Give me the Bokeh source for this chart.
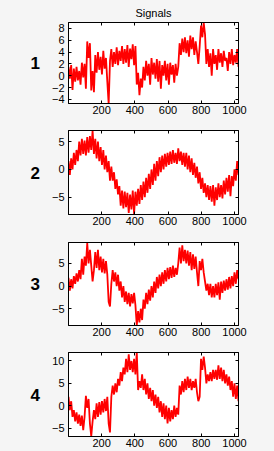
import numpy as np
from bokeh.plotting import figure
from bokeh.layouts import column
from bokeh.models import Range1d, LinearAxis, FixedTicker
from bokeh.embed import file_html
from bokeh.resources import INLINE

# ---- data (one value every ~8 samples) ----
signal_1 = [1.5, -0.5, 1.8, -2.4, 1.2, -1.0, 1.5, -0.8, 0.8, -1.5, 2.2, -0.3, 2.0, -2.2, 5.8, 3.0,
            5.5, -2.5, 0.8, -2.8, 3.5, 0.5, 4.0, 1.0, 3.2, 0.2, 4.2, 1.2, 3.0, -1.0, -4.8, 2.5,
            4.5, 1.5, 4.0, 2.0, 4.8, 1.8, 4.2, 2.5, 5.0, 2.0, 4.5, 2.2, 5.2, 1.5, 4.6, 2.8,
            5.3, 1.8, 5.0, -1.5, 0.5, -3.3, -0.5, -2.0, 1.5, -0.8, 2.5, 0.0, 2.0, -1.5, 3.0, 0.2,
            2.2, -0.5, 2.8, -1.0, 2.5, -2.2, 1.8, 0.0, 2.5, -0.8, 2.0, -1.5, 2.2, 0.2, 1.8, -1.2,
            2.0, 0.0, 1.5, 5.5, 3.5, 6.3, 4.0, 6.5, 3.8, 6.0, 3.2, 6.8, 4.5, 6.5, 3.5, 5.8,
            4.0, 2.0, 5.0, 8.5, 6.5, 9.0, 7.0, 2.0, 4.5, 1.5, 3.8, 0.0, 4.5, 2.0, 3.5, 1.0,
            4.5, 2.2, 3.8, 1.5, 4.2, 2.5, 3.0, 0.8, 4.0, 2.0, 4.5, 1.8, 3.5, 2.2, 4.5, 1.5]
signal_2 = [1.5, -1.0, 2.0, 0.0, 3.0, 0.8, 3.5, 1.5, 5.0, 2.5, 5.5, 2.8, 5.2, 2.5, 5.8, 3.0,
            6.0, 3.5, 7.0, 2.8, 5.5, 2.0, 5.0, 1.5, 4.0, 0.8, 3.5, 0.0, 2.5, -0.5, 1.5, -2.0,
            0.5, -2.0, -0.5, -3.5, -1.8, -4.5, -3.0, -6.5, -3.8, -7.0, -4.0, -6.8, -4.2, -7.8, -4.5, -7.2,
            -3.8, -8.0, -4.0, -6.5, -3.5, -6.2, -2.8, -5.5, -2.2, -5.0, -1.5, -4.2, -0.8, -3.5, 0.0, -2.8,
            1.0, -2.0, 1.5, -1.2, 2.2, -0.5, 2.5, 0.0, 2.8, 0.5, 3.0, 0.8, 3.2, 1.0, 3.5, 1.2,
            3.0, 1.0, 3.8, 1.5, 3.2, 0.8, 3.0, 0.5, 3.0, 0.0, 2.5, -0.5, 2.0, -1.0, 1.2, -1.5,
            0.5, -2.5, -0.5, -3.5, -1.5, -4.2, -2.5, -5.0, -2.8, -5.5, -3.0, -5.8, -2.8, -6.5, -3.2, -5.5,
            -2.5, -5.0, -2.8, -5.2, -2.0, -4.5, -1.5, -4.0, -1.0, -4.8, -1.2, -3.0, 0.0, -2.0, 1.5, -1.0]
signal_3 = [1.8, -1.0, 1.5, -0.5, 2.2, 0.5, 2.8, 1.0, 3.5, 1.5, 6.0, 2.5, 6.5, 4.5, 9.5, 5.0,
            8.0, 4.5, 1.0, 3.5, 7.5, 4.0, 8.0, 3.5, 6.5, 3.0, 6.0, 2.8, 5.5, 2.5, -3.5, -4.5,
            0.5, 3.5, 1.0, 3.0, 0.0, 2.5, -1.0, 1.0, -2.5, 0.0, -3.5, -1.2, -4.0, -1.5, -4.5, -1.8,
            -3.8, -1.5, -4.2, -8.7, -5.5, -8.0, -5.0, -7.5, -3.0, -5.0, -1.5, -4.0, -0.8, -3.2, 0.0, -2.5,
            1.0, -1.5, 2.0, -0.5, 2.5, 0.0, 3.0, 0.5, 3.5, 1.0, 4.0, 1.5, 4.2, 1.8, 4.5, 2.0,
            4.0, 2.5, 5.0, 8.5, 5.0, 9.0, 5.5, 8.0, 5.0, 7.8, 4.5, 7.5, 3.5, 7.0, 3.8, 6.5,
            3.0, 0.0, 5.5, 3.5, 6.0, 3.0, 1.0, -1.0, 0.5, -2.0, 0.5, -2.5, 0.0, -2.5, 0.5, -2.0,
            0.8, -3.0, 1.0, -1.5, 1.2, -1.0, 1.5, -0.8, 2.0, -0.5, 2.2, 0.0, 3.0, 0.5, 3.5, 1.5]
signal_4 = [2.0, -1.0, 1.0, -2.5, -1.0, -3.5, -1.5, -4.0, -2.0, -4.5, -2.2, -5.5, -2.5, 2.2, -0.5, 1.5,
            -4.0, -6.8, -3.5, -1.0, -3.0, 0.5, -2.5, 0.8, -2.0, 1.0, -1.5, 1.5, -1.2, 2.0, -4.0, -6.0,
            2.0, 4.5, 2.5, 5.0, 3.0, 6.0, 4.5, 7.5, 5.5, 8.5, 7.0, 10.5, 7.5, 11.5, 8.0, 10.0,
            7.5, 10.5, 7.0, 12.0, 3.5, 5.5, 4.0, 7.0, 3.5, 6.0, 2.5, 5.0, 1.5, 4.0, 1.0, 3.5,
            0.0, 2.5, -0.5, 2.0, -1.5, 1.0, -2.5, 0.5, -3.0, 0.0, -4.0, -0.5, -3.5, -1.0, -3.0, 0.0,
            -2.5, -0.5, -2.0, 4.5, 2.5, 5.5, 3.0, 6.0, 3.5, 6.5, 4.0, 6.0, 3.5, 5.5, 4.0, 6.0,
            3.0, 1.0, 2.0, 10.5, 8.0, 11.0, 8.5, 5.0, 7.0, 5.5, 7.5, 5.5, 8.0, 6.0, 8.0, 5.8,
            9.0, 6.0, 8.5, 5.5, 8.0, 5.0, 7.0, 4.5, 6.5, 3.5, 5.5, 2.0, 5.0, 1.5, 4.5, 1.0]

signals = [signal_1, signal_2, signal_3, signal_4]
panel_names = ["1", "2", "3", "4"]
y_limits = [(-4.7, 9.0), (-8.1, 7.0), (-8.7, 9.6), (-6.9, 11.9)]
y_ticks = [[-4, -2, 0, 2, 4, 6, 8], [-5, 0, 5], [-5, 0, 5], [-5, 0, 5, 10]]
x_ticks = [200, 400, 600, 800, 1000]
x_limits = (1, 1024)
title_text = "Signals"

# layout (top border, frame height, bottom border) per panel
borders = [(19, 84, 14), (13, 84, 14), (14, 83, 14), (13, 84, 13)]

BG = "#f5f5f5"
FONT = "Liberation Sans"


def make_panel(k):
    sig = signals[k]
    ylo, yhi = y_limits[k]
    top, fh, bot = borders[k]
    p = figure(width=274, height=top + fh + bot, output_backend="svg", toolbar_location=None,
               x_range=Range1d(*x_limits), y_range=Range1d(ylo, yhi),
               min_border_left=68, min_border_right=36, min_border_top=top, min_border_bottom=bot)
    p.background_fill_color = "white"
    p.border_fill_color = BG
    p.outline_line_color = "black"
    p.grid.visible = False

    x = np.linspace(x_limits[0], x_limits[1], len(sig))
    p.line(x, sig, line_color="#ff0000", line_width=1.8)

    for ax in p.xaxis:
        ax.ticker = FixedTicker(ticks=x_ticks)
    for ax in p.yaxis:
        ax.ticker = FixedTicker(ticks=y_ticks[k])
    for ax in list(p.xaxis) + list(p.yaxis):
        ax.major_tick_in = 3
        ax.major_tick_out = 0
        ax.minor_tick_line_color = None
        ax.axis_line_color = "black"
        ax.major_tick_line_color = "black"
        ax.major_label_text_font = FONT
        ax.major_label_text_font_size = "11px"
        ax.major_label_text_color = "black"
    for ax in p.xaxis:
        ax.major_label_standoff = 2
    for ax in p.yaxis:
        ax.major_label_standoff = 4
        ax.axis_label = panel_names[k]
        ax.axis_label_orientation = "horizontal"
        ax.axis_label_standoff = 9
        ax.axis_label_text_font = FONT
        ax.axis_label_text_font_size = "17px"
        ax.axis_label_text_font_style = "bold"
        ax.axis_label_text_color = "black"

    top_ax = LinearAxis(ticker=FixedTicker(ticks=x_ticks), major_tick_in=3, major_tick_out=0,
                        minor_tick_line_color=None, major_label_text_font_size="1px",
                        major_label_text_color=None, major_label_standoff=0,
                        axis_line_color="black")
    right_ax = LinearAxis(ticker=FixedTicker(ticks=y_ticks[k]), major_tick_in=3, major_tick_out=0,
                          minor_tick_line_color=None, major_label_text_font_size="1px",
                          major_label_text_color=None, major_label_standoff=0,
                          axis_line_color="black")
    p.add_layout(top_ax, "above")
    p.add_layout(right_ax, "right")

    if k == 0:
        p.title.text = title_text
        p.title.align = "center"
        p.title.text_font = FONT
        p.title.text_font_size = "11px"
        p.title.text_font_style = "normal"
        p.title.text_color = "black"
        p.title.standoff = 8
        p.title.offset = -3
    return p


panels = [make_panel(k) for k in range(4)]

g = figure(width=274, height=2, output_backend="svg", toolbar_location=None,
           min_border=0, x_range=(0, 1), y_range=(0, 1))
g.axis.visible = False
g.grid.visible = False
g.outline_line_color = None
g.background_fill_color = "#8a8a8a"
g.border_fill_color = "#8a8a8a"

layout = column(*panels, g, spacing=0)
layout.background = BG

open("out.html", "w").write(file_html(layout, INLINE))
